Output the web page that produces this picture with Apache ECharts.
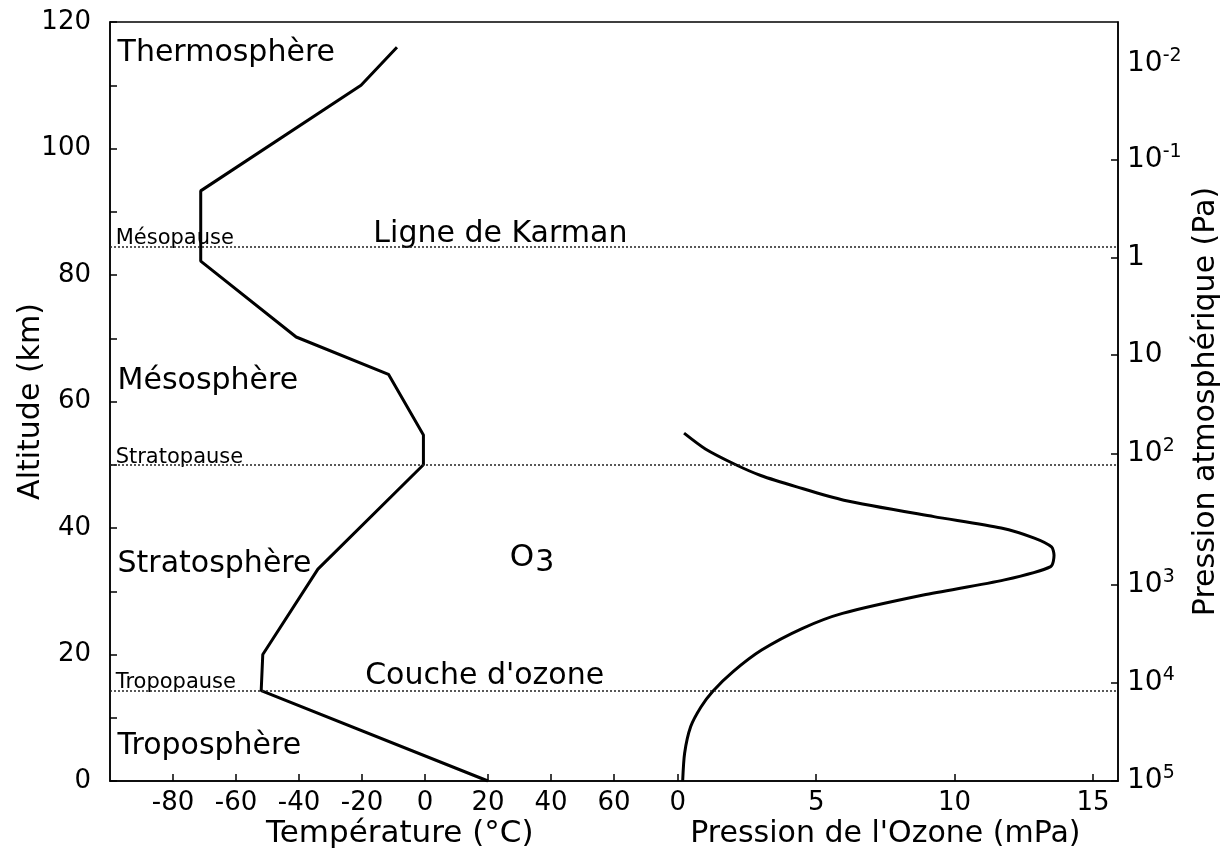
<!DOCTYPE html>
<html>
<head>
<meta charset="utf-8">
<script src="https://cdn.jsdelivr.net/npm/echarts@6/dist/echarts.min.js"></script>
<style>
  html, body { margin: 0; background: #fff; }
  #chart { width: 1230px; height: 850px; }
</style>
</head>
<body>
<div id="chart"></div>
<script>
// profil de température (altitude en km, température en °C)
var tempAlt = [0, 14.3, 20, 33.5, 50, 54.7, 64.3, 70.2, 82.2, 93.3, 110, 116]
var tempVal = [20, -52, -51.5, -34, -0.5, -0.5, -11.6, -40.9, -71.2, -71.2, -20.3, -8.9]

// pression partielle de l'ozone (mPa)
var ozoneAlt = [0, 4.4, 8.6, 11.7, 14.2, 17.3, 20.7, 24.1, 26.5, 29.4, 31.8, 33.9, 35.7, 37.0, 38.4, 40.0, 41.8, 44.4, 46.5, 48.3, 50, 52.5, 55]
var ozoneVal = [0.18, 0.25, 0.47, 0.84, 1.27, 2.0, 3.03, 4.49, 5.95, 8.87, 11.8, 13.47, 13.59, 13.5, 12.88, 11.68, 9.25, 6.0, 4.3, 3.0, 2.1, 1.0, 0.23]

// limites entre couches (km)
var pauseAlt = [84.5, 50, 14.2]
var pauseNames = ['Mésopause', 'Stratopause', 'Tropopause']
var zoneNames = ['Thermosphère', 'Mésosphère', 'Stratosphère', 'Troposphère']

// graduations
var altLabels = [0, 20, 40, 60, 80, 100, 120]
var tempTicks = [-80, -60, -40, -20, 0, 20, 40, 60]
var ozoneTicks = [0, 5, 10, 15]
var pressureAlt = [0, 15.5, 31.1, 51.7, 67.4, 82.8, 98.3, 113.4]
var pressureLabels = ['10^5', '10^4', '10^3', '10^2', '10', '1', '10^-1', '10^-2']

var font = 'DejaVu Sans'
var chart = echarts.init(document.getElementById('chart'))

function pressureFmt (value) {
  var i = pressureAlt.indexOf(value)
  var s = pressureLabels[i] || ''
  var p = s.split('^')
  if (p.length === 1) return '{b|' + s + '}'
  return '{b|' + p[0] + '}{s|' + p[1] + '}'
}

var axisLine = { show: true, onZero: false, lineStyle: { color: '#000', width: 1.5 } }
var tickStyle = { color: '#000', width: 1.5 }

chart.setOption({
  animation: false,
  textStyle: { fontFamily: font, color: '#000' },
  grid: {
    left: 110, right: 112, top: 22, bottom: 69, outerBoundsMode: 'none',
    show: true, borderColor: '#000', borderWidth: 1.5
  },
  xAxis: [
    {
      type: 'value', min: -100, max: 220, position: 'bottom',
      axisLine: axisLine,
      axisTick: { inside: true, length: 7, customValues: tempTicks, lineStyle: tickStyle },
      axisLabel: { customValues: tempTicks, fontSize: 26, color: '#000', margin: 9, fontFamily: font },
      splitLine: { show: false }
    },
    {
      type: 'value', min: -20.5, max: 15.9, position: 'bottom',
      axisLine: { show: false },
      axisTick: { inside: true, length: 7, customValues: ozoneTicks, lineStyle: tickStyle },
      axisLabel: { customValues: ozoneTicks, fontSize: 26, color: '#000', margin: 9, fontFamily: font },
      splitLine: { show: false }
    }
  ],
  yAxis: [
    {
      type: 'value', min: 0, max: 120, interval: 10, position: 'left',
      axisLine: axisLine,
      axisTick: { inside: true, length: 7, lineStyle: tickStyle },
      axisLabel: { customValues: altLabels, fontSize: 26, color: '#000', margin: 19, fontFamily: font },
      splitLine: { show: false }
    },
    {
      type: 'value', min: 0, max: 120, position: 'right',
      axisLine: axisLine,
      axisTick: { inside: true, length: 7, customValues: pressureAlt.slice(0, 7), lineStyle: tickStyle },
      axisLabel: {
        customValues: pressureAlt, margin: 9, formatter: pressureFmt,
        rich: {
          b: { fontSize: 28, lineHeight: 34, color: '#000', fontFamily: font },
          s: { fontSize: 19, lineHeight: 18, verticalAlign: 'top', color: '#000', fontFamily: font }
        }
      },
      splitLine: { show: false }
    }
  ],
  series: [
    {
      type: 'line', xAxisIndex: 0, yAxisIndex: 0, symbol: 'none',
      data: tempVal.map(function (t, i) { return [t, tempAlt[i]] }),
      lineStyle: { color: '#000', width: 3 },
      markLine: {
        silent: true, symbol: ['none', 'none'], label: { show: false },
        lineStyle: { type: [2, 2], color: '#222', width: 1.5 },
        data: pauseAlt.map(function (a) { return { yAxis: a } })
      }
    },
    {
      type: 'line', xAxisIndex: 1, yAxisIndex: 0, symbol: 'none', smooth: 0.25,
      data: ozoneVal.map(function (v, i) { return [v, ozoneAlt[i]] }),
      lineStyle: { color: '#000', width: 3 }
    }
  ]
})

// textes placés en coordonnées (température, altitude)
var zoneAltPos = [115.1, 63.2, 34.3, 5.5]
var pauseAltPos = [85.8, 51.1, 15.6]
var notes = []
zoneNames.forEach(function (n, i) { notes.push({ text: n, x: -97.6, y: zoneAltPos[i], size: 30 }) })
pauseNames.forEach(function (n, i) { notes.push({ text: n, x: -98.2, y: pauseAltPos[i], size: 21 }) })
notes.push({ text: 'Ligne de Karman', x: -16.4, y: 86.5, size: 30 })
notes.push({ text: "Couche d'ozone", x: -19.0, y: 16.6, size: 30 })
notes.push({ text: 'O', x: 26.9, y: 35.3, size: 31 })
notes.push({ text: '3', x: 35.0, y: 34.4, size: 30 })

var graphics = notes.map(function (n) {
  var p = chart.convertToPixel({ seriesIndex: 0 }, [n.x, n.y])
  return {
    type: 'text', x: p[0], y: p[1],
    style: { text: n.text, fontSize: n.size, fontFamily: font, fill: '#000', align: 'left', verticalAlign: 'middle' }
  }
})

function title (text, x, y, rot, size) {
  return {
    type: 'text', x: x, y: y, rotation: rot,
    style: { text: text, fontSize: size, fontFamily: font, fill: '#000', align: 'center', verticalAlign: 'middle' }
  }
}

// titres des axes
var t0 = chart.convertToPixel({ xAxisIndex: 0 }, -8)
var t1 = chart.convertToPixel({ xAxisIndex: 1 }, 7.5)
var midY = chart.convertToPixel({ yAxisIndex: 0 }, 60)
graphics.push(title('Température (°C)', t0, 834, 0, 31))
graphics.push(title("Pression de l'Ozone (mPa)", t1, 834, 0, 30))
graphics.push(title('Altitude (km)', 31, midY, Math.PI / 2, 30))
graphics.push(title('Pression atmosphérique (Pa)', 1206, midY, Math.PI / 2, 30))

chart.setOption({ graphic: graphics })

window.addEventListener('resize', function () { chart.resize() })
</script>
</body>
</html>
